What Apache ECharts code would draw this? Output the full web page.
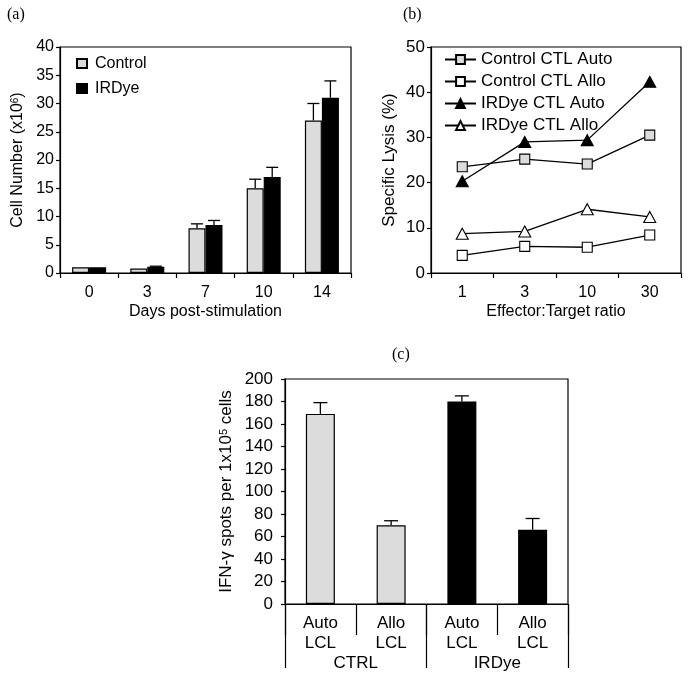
<!DOCTYPE html>
<html>
<head>
<meta charset="utf-8">
<script src="https://cdn.jsdelivr.net/npm/echarts@6/dist/echarts.min.js"></script>
<style>html,body{margin:0;padding:0;background:#fff;}#c{width:694px;height:684px;}</style>
</head>
<body>
<div id="c"></div>
<script>
// Panel (a)
const aDays = ['0', '3', '7', '10', '14'];
const aControl = [1.0, 0.8, 7.9, 15.0, 27.0];
const aControlErr = [1.0, 0.8, 8.7, 16.6, 30.0];
const aIRDye = [1.0, 1.1, 8.5, 17.0, 31.0];
const aIRDyeErr = [1.0, 1.2, 9.3, 18.7, 34.0];
const aYTicks = [0, 40, 5];

// Panel (b)
const bRatios = ['1', '3', '10', '30'];
const bCtrlAuto = [23.5, 25.2, 24.1, 30.5];
const bCtrlAllo = [3.9, 5.9, 5.7, 8.4];
const bIRAuto = [20.3, 29.0, 29.4, 42.3];
const bIRAllo = [8.7, 9.2, 14.1, 12.4];
const bYTicks = [0, 50, 10];

// Panel (c)
const cTargets = ['Auto\nLCL', 'Allo\nLCL', 'Auto\nLCL', 'Allo\nLCL'];
const cGroups = ['CTRL', 'IRDye'];
const cValues = [169, 70, 180, 66];
const cErr = [179, 74, 185, 76];
const cYTicks = [0, 200, 20];

const SANS = '"Liberation Sans", Arial, sans-serif';
const SERIF = '"Liberation Serif", "Times New Roman", serif';
const GRAY = '#dcdcdc';
const AX = {show: true, lineStyle: {color: '#000', width: 1.2}};

function errRender(offset, half) {
  return function (params, api) {
    const i = api.value(0), v = api.value(1), e = api.value(2);
    if (!(e > v)) return null;
    const p0 = api.coord([i, v]);
    const p1 = api.coord([i, e]);
    const x = p0[0] + offset;
    const st = {stroke: '#000', lineWidth: 1.3};
    return {type: 'group', children: [
      {type: 'line', shape: {x1: x, y1: p0[1], x2: x, y2: p1[1]}, style: st},
      {type: 'line', shape: {x1: x - half, y1: p1[1], x2: x + half, y2: p1[1]}, style: st}
    ]};
  };
}

function yAxis(grid, t, name, gap, margin, fs) {
  return {
    gridIndex: grid, type: 'value', min: t[0], max: t[1], interval: t[2],
    axisLine: AX,
    axisTick: {show: true, length: 4, lineStyle: {color: '#000', width: 1.2}},
    splitLine: {show: false},
    axisLabel: {color: '#000', fontSize: fs, fontFamily: SANS, margin: margin},
    name: name, nameLocation: 'middle', nameGap: gap,
    nameTextStyle: {color: '#000', fontSize: fs, fontFamily: SANS,
      rich: {s: {fontSize: Math.round(fs * 0.62), fontFamily: SANS, color: '#000', verticalAlign: 'top'}}}
  };
}

const lineCommon = {type: 'line', xAxisIndex: 1, yAxisIndex: 1,
  lineStyle: {color: '#000', width: 1.3}, showAllSymbol: true};

const titleStyle = {fontFamily: SERIF, fontSize: 16, fontWeight: 'normal', color: '#000'};

const option = {
  animation: false,
  backgroundColor: '#fff',
  title: [
    {text: '(a)', left: 2, top: 2, textStyle: titleStyle},
    {text: '(b)', left: 398, top: 2, textStyle: titleStyle},
    {text: '(c)', left: 387, top: 342, textStyle: titleStyle}
  ],
  legend: [
    {data: ['Control', 'IRDye'], orient: 'vertical', left: 76, top: 55, icon: 'rect', padding: 0,
      itemWidth: 10, itemHeight: 9, itemGap: 8,
      textStyle: {fontSize: 16, fontFamily: SANS, color: '#000', lineHeight: 17, padding: [0, 0, 0, 3]}},
    {data: ['Control CTL Auto', 'Control CTL Allo', 'IRDye CTL Auto', 'IRDye CTL Allo'], padding: 0,
      orient: 'vertical', left: 444, top: 51, itemWidth: 31, itemHeight: 11, itemGap: 5,
      textStyle: {fontSize: 17, fontFamily: SANS, color: '#000', lineHeight: 17}}
  ],
  grid: [
    {left: 60, top: 47, width: 291, height: 226, show: true, borderColor: '#000', borderWidth: 1.2},
    {left: 431, top: 47, width: 250, height: 226, show: true, borderColor: '#000', borderWidth: 1.2},
    {left: 285, top: 379, width: 283, height: 225, show: true, borderColor: '#000', borderWidth: 1.2}
  ],
  xAxis: [
    {gridIndex: 0, type: 'category', data: aDays, axisLine: AX,
      axisTick: {show: true, length: 5, lineStyle: {color: '#000', width: 1.2}},
      axisLabel: {color: '#000', fontSize: 16, fontFamily: SANS, margin: 12},
      name: 'Days post-stimulation', nameLocation: 'middle', nameGap: 31,
      nameTextStyle: {color: '#000', fontSize: 16, fontFamily: SANS}},
    {gridIndex: 1, type: 'category', data: bRatios, axisLine: AX,
      axisTick: {show: true, length: 5, lineStyle: {color: '#000', width: 1.2}},
      axisLabel: {color: '#000', fontSize: 16, fontFamily: SANS, margin: 12},
      name: 'Effector:Target ratio', nameLocation: 'middle', nameGap: 31,
      nameTextStyle: {color: '#000', fontSize: 16, fontFamily: SANS}},
    {gridIndex: 2, type: 'category', data: cTargets, axisLine: AX, position: 'bottom',
      axisTick: {show: true, length: 31, lineStyle: {color: '#000', width: 1.2}},
      axisLabel: {color: '#000', fontSize: 17, fontFamily: SANS, margin: 9, lineHeight: 20}},
    {gridIndex: 2, type: 'category', data: cGroups, axisLine: AX, position: 'bottom', offset: 0,
      axisTick: {show: true, length: 64, lineStyle: {color: '#000', width: 1.2}},
      axisLabel: {color: '#000', fontSize: 17, fontFamily: SANS, margin: 51}}
  ],
  yAxis: [
    yAxis(0, aYTicks, 'Cell Number (x10{s|6})', 34, 6, 16),
    yAxis(1, bYTicks, 'Specific Lysis (%)', 33, 6, 17),
    yAxis(2, cYTicks, 'IFN-γ spots per 1x10{s|5} cells', 50, 12, 17)
  ],
  series: [
    {name: 'Control', type: 'bar', xAxisIndex: 0, yAxisIndex: 0, data: aControl, barWidth: 17, barGap: '0%',
      itemStyle: {color: GRAY, borderColor: '#000', borderWidth: 1.2}},
    {name: 'IRDye', type: 'bar', xAxisIndex: 0, yAxisIndex: 0, data: aIRDye, barWidth: 17, barGap: '0%',
      itemStyle: {color: '#000', borderColor: '#000', borderWidth: 1.2}},
    {type: 'custom', xAxisIndex: 0, yAxisIndex: 0, renderItem: errRender(-8.5, 6), z: 5,
      encode: {x: 0, y: [1, 2]}, data: aControl.map((v, i) => [i, v, aControlErr[i]])},
    {type: 'custom', xAxisIndex: 0, yAxisIndex: 0, renderItem: errRender(8.5, 6), z: 5,
      encode: {x: 0, y: [1, 2]}, data: aIRDye.map((v, i) => [i, v, aIRDyeErr[i]])},

    Object.assign({}, lineCommon, {name: 'Control CTL Auto', data: bCtrlAuto, symbol: 'rect', symbolSize: 10,
      itemStyle: {color: GRAY, borderColor: '#000', borderWidth: 1.1}}),
    Object.assign({}, lineCommon, {name: 'Control CTL Allo', data: bCtrlAllo, symbol: 'rect', symbolSize: 10,
      itemStyle: {color: '#fff', borderColor: '#000', borderWidth: 1.1}}),
    Object.assign({}, lineCommon, {name: 'IRDye CTL Auto', data: bIRAuto, symbol: 'triangle', symbolSize: [12, 11],
      itemStyle: {color: '#000', borderColor: '#000', borderWidth: 1.1}}),
    Object.assign({}, lineCommon, {name: 'IRDye CTL Allo', data: bIRAllo, symbol: 'triangle', symbolSize: [12, 11],
      itemStyle: {color: '#fff', borderColor: '#000', borderWidth: 1.1}}),

    {type: 'bar', xAxisIndex: 2, yAxisIndex: 2, barWidth: 29,
      data: cValues.map((v, i) => ({value: v, itemStyle: {color: i < 2 ? GRAY : '#000', borderColor: '#000', borderWidth: 1.2}}))},
    {type: 'custom', xAxisIndex: 2, yAxisIndex: 2, renderItem: errRender(0, 7), z: 5,
      encode: {x: 0, y: [1, 2]}, data: cValues.map((v, i) => [i, v, cErr[i]])}
  ]
};

const chart = echarts.init(document.getElementById('c'), null, {renderer: 'canvas'});
chart.setOption(option);
</script>
</body>
</html>
